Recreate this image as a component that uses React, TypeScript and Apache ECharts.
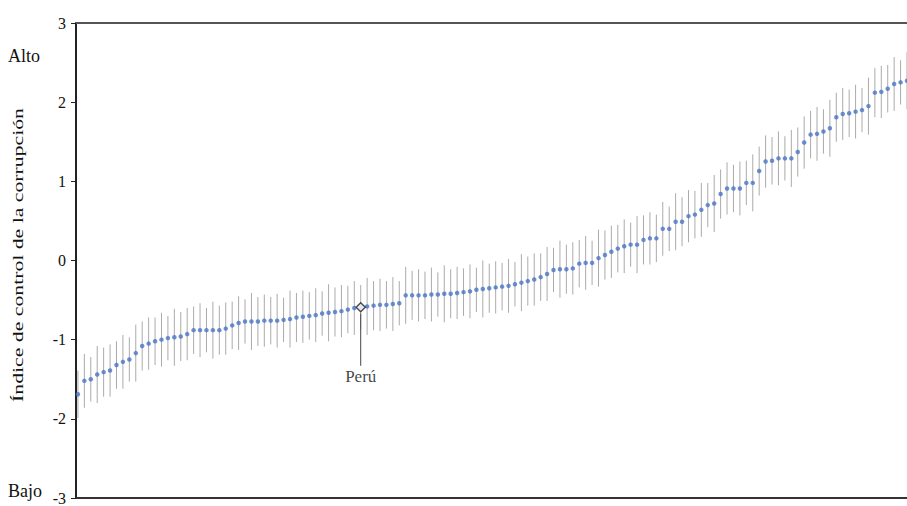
import React, { useEffect, useRef } from "react";
import * as echarts from "echarts";

const yTicks = [-3, -2, -1, 0, 1, 2, 3];
const yAxisTitle = "Índice de control de la corrupción";
const highLabel = "Alto";
const lowLabel = "Bajo";
const peruLabel = "Perú";
const peruIndex = 44;

const scores: number[] = [
  -1.69, -1.52, -1.5, -1.44, -1.41, -1.39, -1.32, -1.28, -1.25, -1.17,
  -1.08, -1.05, -1.02, -1.0, -0.98, -0.97, -0.96, -0.93, -0.88, -0.88,
  -0.88, -0.88, -0.88, -0.86, -0.82, -0.79, -0.77, -0.77, -0.77, -0.76,
  -0.76, -0.76, -0.75, -0.74, -0.72, -0.71, -0.7, -0.69, -0.67, -0.66,
  -0.65, -0.64, -0.62, -0.6, -0.59, -0.58, -0.57, -0.56, -0.56, -0.55,
  -0.54, -0.44, -0.44, -0.44, -0.44, -0.43, -0.43, -0.42, -0.42, -0.41,
  -0.4, -0.39, -0.37, -0.36, -0.35, -0.34, -0.33, -0.32, -0.3, -0.28,
  -0.26, -0.24, -0.21, -0.17, -0.12, -0.11, -0.11, -0.1, -0.04, -0.03,
  -0.03, 0.03, 0.07, 0.11, 0.15, 0.18, 0.2, 0.2, 0.26, 0.28,
  0.28, 0.4, 0.4, 0.49, 0.49, 0.56, 0.58, 0.64, 0.7, 0.72,
  0.84, 0.91, 0.91, 0.91, 0.98, 0.98, 1.13, 1.25, 1.26, 1.29,
  1.29, 1.29, 1.37, 1.49, 1.59, 1.6, 1.63, 1.67, 1.81, 1.85,
  1.86, 1.88, 1.9, 1.95, 2.12, 2.13, 2.17, 2.23, 2.25, 2.27,
];

// half-width of the confidence interval for each country
const marginPattern: number[] = [0.3, 0.34, 0.28, 0.36, 0.31, 0.33];

export default function App() {
  const ref = useRef<HTMLDivElement>(null);

  useEffect(() => {
    if (!ref.current) return;
    const chart = echarts.init(ref.current, undefined, { renderer: "svg" });
    const points = scores.map((v, i) => [i, v]);
    const bars = scores.map((v, i) => {
      const m = marginPattern[i % marginPattern.length];
      return [i, v - m, v + m];
    });
    const serif = "'Liberation Serif', 'DejaVu Serif', serif";

    chart.setOption({
      animation: false,
      backgroundColor: "#ffffff",
      grid: { left: 76, right: 0, top: 23, height: 481 },
      xAxis: [
        {
          type: "value",
          min: -0.3,
          max: 129,
          position: "bottom",
          axisLine: { show: true, onZero: false, lineStyle: { color: "#333", width: 2 } },
          axisTick: { show: false },
          axisLabel: { show: false },
          splitLine: { show: false },
        },
        {
          type: "value",
          min: -0.3,
          max: 129,
          position: "top",
          axisLine: { show: true, onZero: false, lineStyle: { color: "#555", width: 2 } },
          axisTick: { show: false },
          axisLabel: { show: false },
          splitLine: { show: false },
        },
      ],
      yAxis: {
        type: "value",
        min: yTicks[0],
        max: yTicks[yTicks.length - 1],
        interval: 1,
        axisLine: { show: true, onZero: false, lineStyle: { color: "#222", width: 2 } },
        axisTick: { show: true, length: 5, lineStyle: { color: "#222" } },
        axisLabel: {
          color: "#111",
          fontFamily: serif,
          fontSize: 16,
          margin: 10,
        },
        splitLine: { show: false },
      },
      graphic: [
        {
          type: "text",
          x: 18,
          y: 255,
          rotation: Math.PI / 2,
          scaleX: 1.5,
          style: {
            text: yAxisTitle,
            fill: "#111",
            font: `14.5px ${serif}`,
            textAlign: "center",
            textVerticalAlign: "middle",
          },
        },
        {
          type: "text",
          left: 8,
          top: 47,
          style: { text: highLabel, fill: "#111", font: `18px ${serif}` },
        },
        {
          type: "text",
          left: 8,
          top: 482,
          style: { text: lowLabel, fill: "#111", font: `18px ${serif}` },
        },
      ],
      series: [
        {
          type: "custom",
          z: 1,
          data: bars,
          renderItem: (params: any, api: any) => {
            const x = api.value(0);
            const lo = api.coord([x, api.value(1)]);
            const hi = api.coord([x, api.value(2)]);
            return {
              type: "line",
              shape: { x1: lo[0], y1: lo[1], x2: hi[0], y2: hi[1] },
              style: { stroke: "#ababab", lineWidth: 1 },
            };
          },
        },
        {
          type: "scatter",
          z: 3,
          data: points,
          symbol: "circle",
          symbolSize: 4.5,
          itemStyle: { color: "#4a74c4" },
        },
        {
          type: "line",
          z: 2,
          data: [
            [peruIndex, scores[peruIndex] - 0.08],
            [peruIndex, scores[peruIndex] - 0.74],
          ],
          symbol: "none",
          lineStyle: { color: "#444", width: 1 },
        },
        {
          type: "scatter",
          z: 4,
          data: [[peruIndex, scores[peruIndex]]],
          symbol: "diamond",
          symbolSize: 9,
          itemStyle: { color: "#ffffff", borderColor: "#222", borderWidth: 1.5 },
        },
        {
          type: "scatter",
          z: 4,
          data: [[peruIndex, scores[peruIndex] - 0.88]],
          symbolSize: 0,
          label: {
            show: true,
            position: "inside",
            formatter: () => peruLabel,
            color: "#111",
            fontFamily: serif,
            fontSize: 17,
          },
        },
      ],
    });
    return () => chart.dispose();
  }, []);

  return (
    <div
      ref={ref}
      style={{ position: "fixed", left: 0, top: 0, width: 907, height: 506 }}
    />
  );
}
